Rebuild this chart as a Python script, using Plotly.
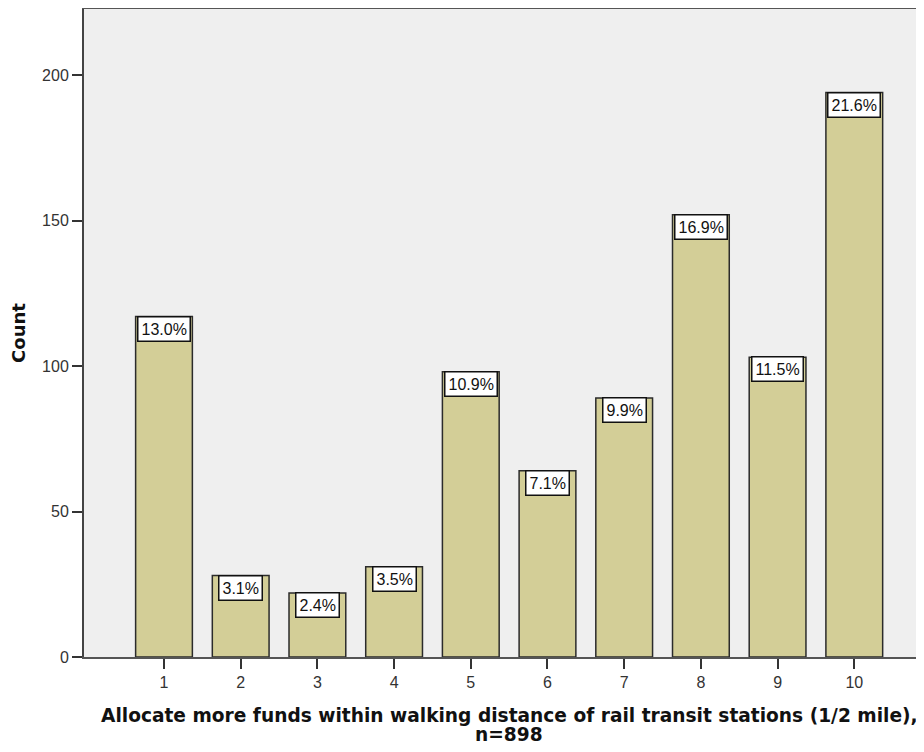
import plotly.graph_objects as go

categories = [1, 2, 3, 4, 5, 6, 7, 8, 9, 10]
counts = [117, 28, 22, 31, 98, 64, 89, 152, 103, 194]
n_total = 898
y_ticks = [0, 50, 100, 150, 200]
x_title_lines = ["Allocate more funds within walking distance of rail transit stations (1/2 mile),",
                 "n=898"]
y_title = "Count"

pct_labels = [f"{c / n_total * 100:.1f}%" for c in counts]

FONT = "Liberation Sans, Arial, sans-serif"
TITLE_FONT = "DejaVu Sans, Verdana, sans-serif"

fig = go.Figure()
fig.add_trace(go.Bar(
    x=categories, y=counts, width=0.74,
    marker=dict(color="#D3CE97", line=dict(color="#2B2B2B", width=1.5)),
    hoverinfo="skip",
))

for c, v, lab in zip(categories, counts, pct_labels):
    fig.add_annotation(
        x=c, y=v, xref="x", yref="y", text=lab, showarrow=False,
        yanchor="top", xanchor="center", yshift=1,
        font=dict(family=FONT, size=16, color="#111111"),
        bgcolor="white", bordercolor="#111111", borderwidth=1.5, borderpad=3,
    )

# x-axis title as two lines, centred on the category span
x_mid = (categories[0] + categories[-1]) / 2
for i, line in enumerate(x_title_lines):
    fig.add_annotation(
        x=x_mid, y=0, xref="x", yref="paper", text=line, showarrow=False,
        xanchor="center", yanchor="middle", yshift=-58 - 19 * i,
        font=dict(family=TITLE_FONT, size=18.6, color="#111111", weight="bold"),
    )

fig.update_layout(
    width=916, height=736,
    margin=dict(l=76, r=0, t=1, b=87),
    paper_bgcolor="white", plot_bgcolor="#EFEFEF",
    showlegend=False,
    font=dict(family=FONT, color="#222222"),
)
fig.update_xaxes(
    range=[-0.043, 10.909], tickvals=categories, ticktext=[str(c) for c in categories],
    showgrid=False, zeroline=False,
    showline=True, linecolor="#555555", linewidth=2, mirror=True,
    ticks="outside", ticklen=10, tickwidth=2, tickcolor="#333333",
    tickfont=dict(size=16, color="#333333"),
)
fig.update_yaxes(
    range=[0, 222.7], tickvals=y_ticks,
    showgrid=False, zeroline=False,
    showline=True, linecolor="#444444", linewidth=2, mirror=False,
    ticks="outside", ticklen=10, tickwidth=2, tickcolor="#333333",
    tickfont=dict(size=16, color="#333333"),
    title=dict(text=y_title, standoff=20,
               font=dict(family=TITLE_FONT, size=18, color="#111111", weight="bold")),
)

fig.write_html("out.html")
